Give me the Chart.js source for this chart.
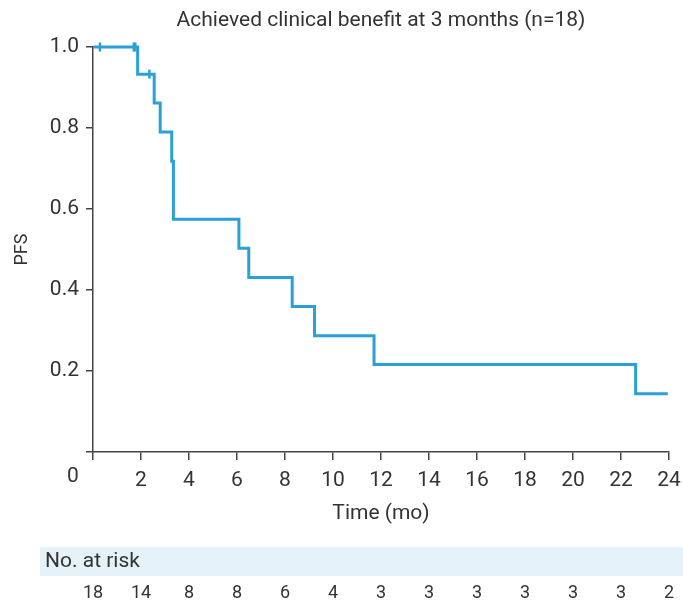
<!DOCTYPE html>
<html>
<head>
<meta charset="utf-8">
<script src="https://cdn.jsdelivr.net/npm/chart.js@4"></script>
<style>
  body { margin: 0; background: #fff; }
  canvas { display: block; }
</style>
</head>
<body>
<canvas id="myChart" width="683" height="602"></canvas>
<script>
// KM step points (time in months, survival after the event)
const stepTimes = [0, 1.86, 2.55, 2.8, 3.28, 3.35, 6.08, 6.49, 8.3, 9.23, 11.71, 22.61, 23.95];
const stepSurvival = [1, 0.933, 0.862, 0.79, 0.718, 0.575, 0.503, 0.431, 0.359, 0.287, 0.216, 0.144, 0.144];

// censored observations
const censorTimes = [0.29, 1.7, 1.76, 2.35];
const censorSurvival = [1, 1, 1, 0.933];

// number at risk table
const riskTimes = [0, 2, 4, 6, 8, 10, 12, 14, 16, 18, 20, 22, 24];
const atRisk = [18, 14, 8, 8, 6, 4, 3, 3, 3, 3, 3, 3, 2];

const yTicks = [0, 0.2, 0.4, 0.6, 0.8, 1.0];

const blue = '#2a9fd8';
const textColor = '#333333';
const axisColor = '#444444';
const fontFamily = 'Roboto, "Noto Sans", sans-serif';

const extraText = {
  id: 'extraText',
  afterDraw(chart) {
    const ctx = chart.ctx;
    const xs = chart.scales.x;
    const area = chart.chartArea;
    ctx.save();
    ctx.fillStyle = textColor;

    // title over the plot area
    ctx.font = '21px ' + fontFamily;
    ctx.textAlign = 'center';
    ctx.textBaseline = 'middle';
    ctx.fillText('Achieved clinical benefit at 3 months (n=18)', (area.left + area.right) / 2, 21);

    // origin label
    ctx.fillText('0', xs.getPixelForValue(0) - 20, 477);

    // number at risk band
    ctx.fillStyle = '#e6f2fa';
    ctx.fillRect(40, 547, 643, 29);
    ctx.fillStyle = textColor;
    ctx.textAlign = 'left';
    ctx.fillText('No. at risk', 45, 562);

    ctx.font = '18px ' + fontFamily;
    ctx.textAlign = 'center';
    riskTimes.forEach((t, i) => {
      ctx.fillText(String(atRisk[i]), xs.getPixelForValue(t), 593);
    });
    ctx.restore();
  }
};

const ctx = document.getElementById('myChart').getContext('2d');
const myChart = new Chart(ctx, {
  type: 'scatter',
  data: {
    datasets: [
      {
        label: 'PFS',
        data: stepTimes.map((t, i) => ({ x: t, y: stepSurvival[i] })),
        showLine: true,
        stepped: 'before',
        borderColor: blue,
        borderWidth: 3,
        pointRadius: 0,
        fill: false,
        clip: false,
      },
      {
        label: 'Censored',
        data: censorTimes.map((t, i) => ({ x: t, y: censorSurvival[i] })),
        pointStyle: 'line',
        rotation: 90,
        pointRadius: 4.5,
        borderColor: blue,
        backgroundColor: blue,
        borderWidth: 2.5,
        clip: false,
      },
    ],
  },
  options: {
    responsive: false,
    animation: false,
    layout: {
      padding: { top: 47, right: 14, bottom: 76, left: 0 },
    },
    plugins: {
      legend: { display: false },
      title: { display: false },
      tooltip: { enabled: false },
    },
    scales: {
      x: {
        type: 'linear',
        min: 0,
        max: 24,
        afterFit: (s) => {
          s.height = 74;
          s.paddingLeft = 0;
          s.paddingRight = 0;
        },
        afterBuildTicks: (s) => { s.ticks = riskTimes.map((v) => ({ value: v })); },
        ticks: {
          color: textColor,
          font: { family: fontFamily, size: 21 },
          padding: 8,
          maxRotation: 0,
          callback: (v) => (v === 0 ? '' : String(v)),
        },
        grid: {
          drawOnChartArea: false,
          drawTicks: true,
          tickLength: 8,
          color: axisColor,
          lineWidth: 1.5,
        },
        border: { display: true, color: axisColor, width: 1.5 },
        title: {
          display: true,
          text: 'Time (mo)',
          color: textColor,
          font: { family: fontFamily, size: 21 },
          padding: 0,
        },
      },
      y: {
        min: 0,
        max: 1,
        afterFit: (s) => {
          s.width = 93;
          s.paddingTop = 0;
          s.paddingBottom = 0;
        },
        afterBuildTicks: (s) => { s.ticks = yTicks.map((v) => ({ value: v })); },
        ticks: {
          color: textColor,
          font: { family: fontFamily, size: 21 },
          padding: 7,
          callback: (v) => (v === 0 ? '' : v.toFixed(1)),
        },
        grid: {
          drawOnChartArea: false,
          drawTicks: true,
          tickLength: 7,
          color: axisColor,
          lineWidth: 1.5,
        },
        border: { display: true, color: axisColor, width: 1.5 },
        title: {
          display: true,
          text: 'PFS',
          color: textColor,
          font: { family: fontFamily, size: 18 },
          padding: { top: 12, bottom: 0 },
        },
      },
    },
  },
  plugins: [extraText],
});
</script>
</body>
</html>
